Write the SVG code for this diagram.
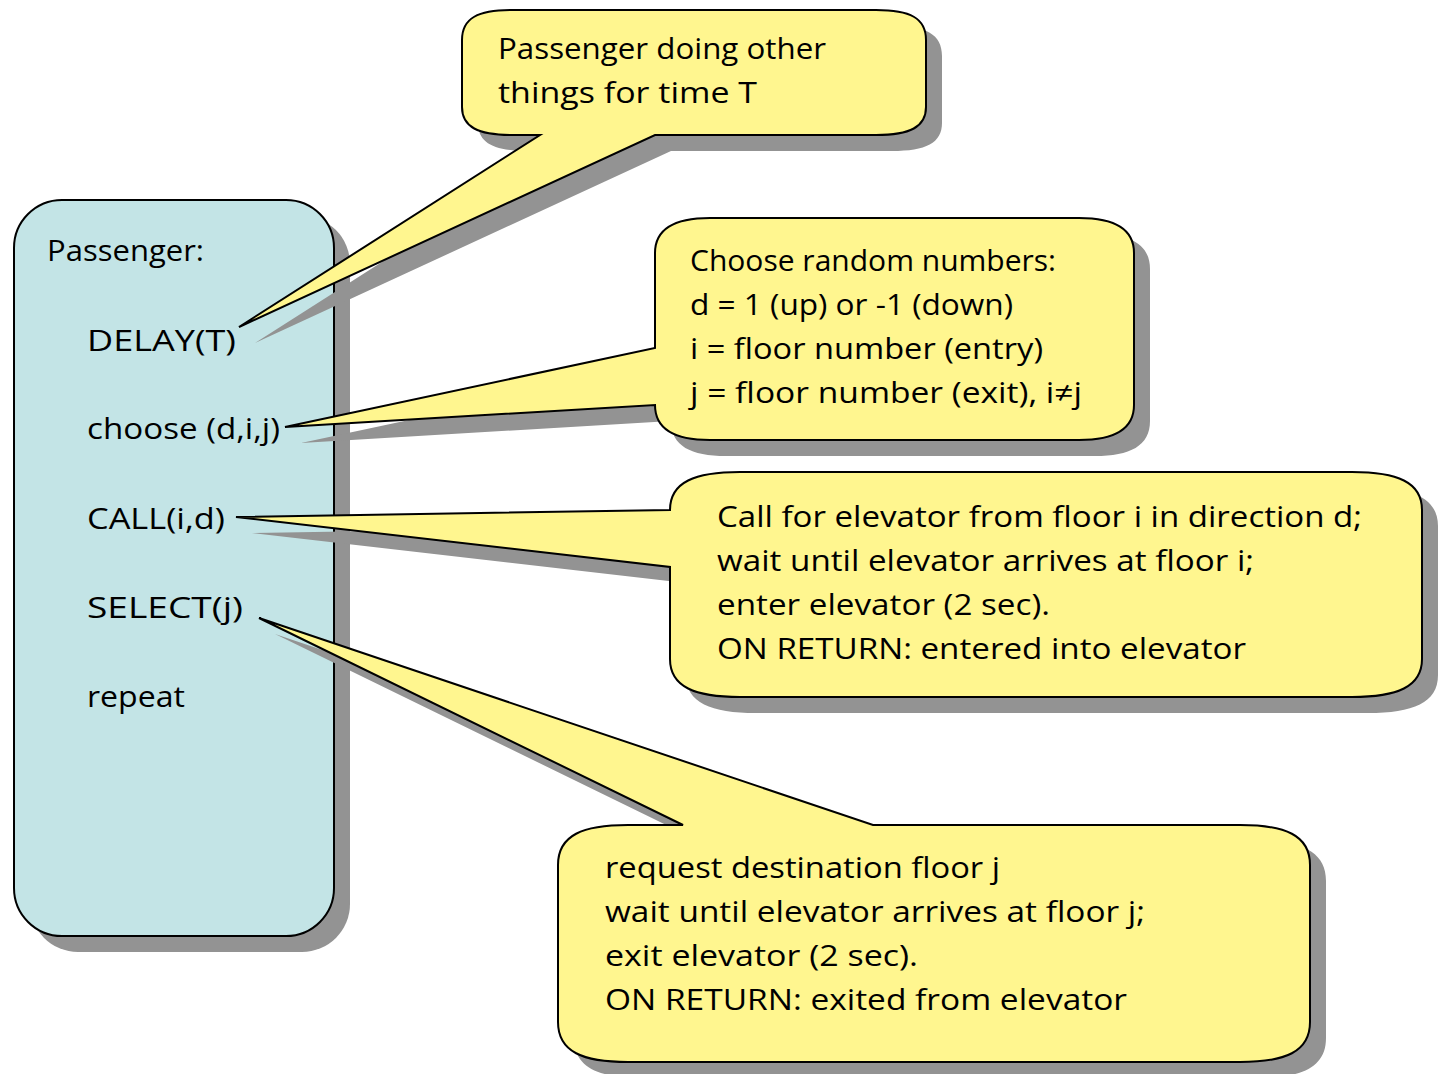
<svg xmlns="http://www.w3.org/2000/svg" xmlns:xlink="http://www.w3.org/1999/xlink" width="1438" height="1074" viewBox="0 0 1438 1074">
<style>
.shadow{fill:#939393;stroke:none}
.call{fill:#FFF68F;stroke:#000;stroke-width:2}
.box{fill:#C3E4E6;stroke:#000;stroke-width:2}
text{font-family:"Open Sans","DejaVu Sans",sans-serif;font-size:29px;fill:#000}
</style>
<defs>
<rect id="pbox" x="14" y="200" width="320" height="736" rx="48" ry="48"/>
<path id="c1" d="M462,40 C462,18 478,10 512,10 L876,10 C910,10 926,18 926,40 L926,107 C926,127 910,135 876,135 L655,135 L239,327 L540,135 L512,135 C478,135 462,127 462,107 Z"/>
<path id="c2" d="M655,253 C655,228 675,218 710,218 L1079,218 C1114,218 1134,228 1134,253 L1134,405 C1134,430 1114,440 1079,440 L710,440 C675,440 655,430 655,405 L285,427 L655,348 Z"/>
<path id="c3" d="M670,510 C670,482 695,472 740,472 L1352,472 C1397,472 1422,482 1422,510 L1422,659 C1422,687 1397,697 1352,697 L740,697 C695,697 670,687 670,659 L670,567 L236,517 Z"/>
<path id="c4" d="M558,865 C558,835 583,825 628,825 L683,825 L259,618 L873,825 L1240,825 C1285,825 1310,835 1310,865 L1310,1022 C1310,1052 1285,1062 1240,1062 L628,1062 C583,1062 558,1052 558,1022 Z"/>
</defs>

<g id="passenger">
<use xlink:href="#pbox" class="shadow" transform="translate(16,16)"/>
<use xlink:href="#pbox" class="box"/>
<text x="47" y="261" textLength="157" lengthAdjust="spacingAndGlyphs">Passenger:</text>
<text x="87" y="351" textLength="149" lengthAdjust="spacingAndGlyphs">DELAY(T)</text>
<text x="87" y="439" textLength="193" lengthAdjust="spacingAndGlyphs">choose (d,i,j)</text>
<text x="87" y="529" textLength="138" lengthAdjust="spacingAndGlyphs">CALL(i,d)</text>
<text x="87" y="618" textLength="156" lengthAdjust="spacingAndGlyphs">SELECT(j)</text>
<text x="87" y="707" textLength="98" lengthAdjust="spacingAndGlyphs">repeat</text>
</g>

<g id="callout-delay">
<use xlink:href="#c1" class="shadow" transform="translate(16,16)"/>
<use xlink:href="#c1" class="call"/>
<text x="498" y="59" textLength="328" lengthAdjust="spacingAndGlyphs">Passenger doing other</text>
<text x="498" y="103" textLength="259" lengthAdjust="spacingAndGlyphs">things for time T</text>
</g>

<g id="callout-choose">
<use xlink:href="#c2" class="shadow" transform="translate(16,16)"/>
<use xlink:href="#c2" class="call"/>
<text x="690" y="271" textLength="366" lengthAdjust="spacingAndGlyphs">Choose random numbers:</text>
<text x="690" y="315" textLength="323" lengthAdjust="spacingAndGlyphs">d = 1 (up) or -1 (down)</text>
<text x="690" y="359" textLength="353" lengthAdjust="spacingAndGlyphs">i = floor number (entry)</text>
<text x="690" y="403" textLength="392" lengthAdjust="spacingAndGlyphs">j = floor number (exit), i≠j</text>
</g>

<g id="callout-call">
<use xlink:href="#c3" class="shadow" transform="translate(16,16)"/>
<use xlink:href="#c3" class="call"/>
<text x="717" y="527" textLength="645" lengthAdjust="spacingAndGlyphs">Call for elevator from floor i in direction d;</text>
<text x="717" y="571" textLength="537" lengthAdjust="spacingAndGlyphs">wait until elevator arrives at floor i;</text>
<text x="717" y="615" textLength="333" lengthAdjust="spacingAndGlyphs">enter elevator (2 sec).</text>
<text x="717" y="659" textLength="529" lengthAdjust="spacingAndGlyphs">ON RETURN: entered into elevator</text>
</g>

<g id="callout-select">
<use xlink:href="#c4" class="shadow" transform="translate(16,16)"/>
<use xlink:href="#c4" class="call"/>
<text x="605" y="878" textLength="395" lengthAdjust="spacingAndGlyphs">request destination floor j</text>
<text x="605" y="922" textLength="540" lengthAdjust="spacingAndGlyphs">wait until elevator arrives at floor j;</text>
<text x="605" y="966" textLength="313" lengthAdjust="spacingAndGlyphs">exit elevator (2 sec).</text>
<text x="605" y="1010" textLength="522" lengthAdjust="spacingAndGlyphs">ON RETURN: exited from elevator</text>
</g>

<g id="connectors"></g>
</svg>
